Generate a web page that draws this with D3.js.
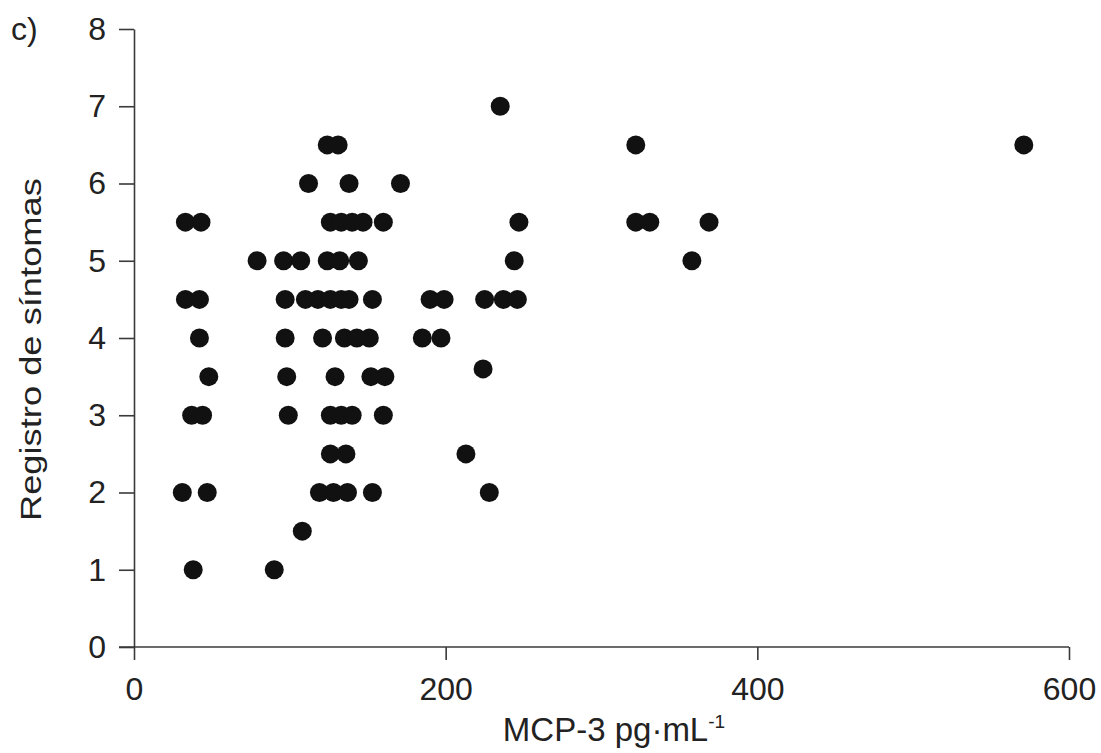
<!DOCTYPE html>
<html>
<head>
<meta charset="utf-8">
<script src="https://cdn.jsdelivr.net/npm/d3@7"></script>
<style>
  body { margin: 0; background: #fff; }
  svg { display: block; }
  text { font-family: "Liberation Sans", Arial, sans-serif; fill: #222; }
</style>
</head>
<body>
<svg id="chart" width="1101" height="753"></svg>
<script>
// MCP-3 (pg/mL) vs symptom score
const mcp3 = [
  235,
  124, 131, 322, 571,
  112, 138, 171,
  33, 43, 126, 133, 140, 147, 160, 247, 322, 331, 369,
  79, 96, 107, 124, 132, 144, 244, 358,
  33, 42, 97, 110, 118, 126, 133, 138, 153, 190, 199, 225, 237, 246,
  42, 97, 121, 135, 143, 151, 185, 197,
  48, 98, 129, 152, 161, 224,
  37, 44, 99, 126, 133, 140, 160,
  126, 136, 213,
  31, 47, 119, 128, 137, 153, 228,
  108,
  38, 90
]
const symptoms = [
  7,
  6.5, 6.5, 6.5, 6.5,
  6, 6, 6,
  5.5, 5.5, 5.5, 5.5, 5.5, 5.5, 5.5, 5.5, 5.5, 5.5, 5.5,
  5, 5, 5, 5, 5, 5, 5, 5,
  4.5, 4.5, 4.5, 4.5, 4.5, 4.5, 4.5, 4.5, 4.5, 4.5, 4.5, 4.5, 4.5, 4.5,
  4, 4, 4, 4, 4, 4, 4, 4,
  3.5, 3.5, 3.5, 3.5, 3.5, 3.6,
  3, 3, 3, 3, 3, 3, 3,
  2.5, 2.5, 2.5,
  2, 2, 2, 2, 2, 2, 2,
  1.5,
  1, 1
]
const xTicks = [0, 200, 400, 600]
const yTicks = [0, 1, 2, 3, 4, 5, 6, 7, 8]

var svg = d3.select('#chart')
var margin = {left: 134, top: 29, right: 32, bottom: 106}
var w = 1101 - margin.left - margin.right,
    h = 753 - margin.top - margin.bottom

var x = d3.scaleLinear().domain([0, 600]).range([0, w])
var y = d3.scaleLinear().domain([0, 8]).range([h, 0])

var g = svg.append('g').attr('transform', `translate(${margin.left},${margin.top})`)

var xAxis = g.append('g')
  .attr('transform', `translate(0,${h})`)
  .call(d3.axisBottom(x).tickValues(xTicks).tickSize(13).tickPadding(17).tickSizeOuter(0))
var yAxis = g.append('g')
  .call(d3.axisLeft(y).tickValues(yTicks).tickSize(15).tickPadding(13).tickSizeOuter(0))

;[xAxis, yAxis].forEach(a => {
  a.select('.domain').attr('stroke', '#3a3a3a').attr('stroke-width', 1.6)
  a.selectAll('.tick line').attr('stroke', '#3a3a3a').attr('stroke-width', 1.6)
  a.selectAll('.tick text')
    .style('font-family', '"Liberation Sans", Arial, sans-serif')
    .style('font-size', '32px')
    .attr('fill', '#222')
})
// x axis line runs on to the left, through the 0 tick of y
xAxis.select('.domain').attr('d', `M-15,0H${w}`)

var data = mcp3.map((v, i) => ({x: v, y: symptoms[i]}))
g.selectAll('circle.pt')
  .data(data)
  .join('circle')
  .attr('class', 'pt')
  .attr('cx', d => x(d.x))
  .attr('cy', d => y(d.y))
  .attr('r', 9.5)
  .attr('fill', '#111')

// titles
svg.append('text')
  .attr('transform', `translate(41,${margin.top + y(3.85)}) rotate(-90)`)
  .attr('text-anchor', 'middle')
  .attr('textLength', 343)
  .attr('lengthAdjust', 'spacingAndGlyphs')
  .style('font-size', '29px')
  .text('Registro de síntomas')

var xt = svg.append('text')
  .attr('x', 614)
  .attr('y', 741)
  .attr('text-anchor', 'middle')
  .style('font-size', '33px')
xt.append('tspan').text('MCP-3 pg·mL')
xt.append('tspan').attr('dy', -13).style('font-size', '19px').text('-1')

svg.append('text')
  .attr('x', 11)
  .attr('y', 40)
  .style('font-size', '32px')
  .text('c)')
</script>
</body>
</html>
